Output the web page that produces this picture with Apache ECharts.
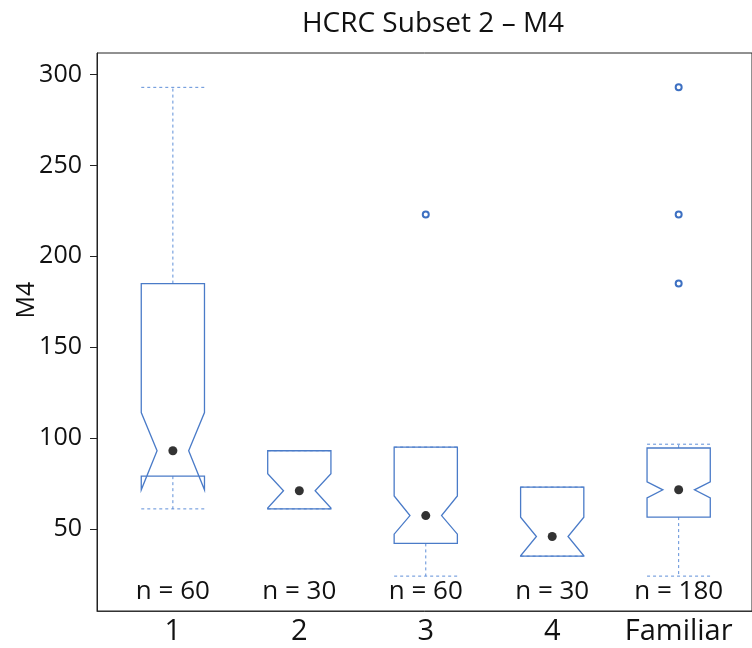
<!DOCTYPE html>
<html>
<head>
<meta charset="utf-8">
<script src="https://cdn.jsdelivr.net/npm/echarts@6/dist/echarts.min.js"></script>
<style>html,body{margin:0;padding:0;background:#fff}#c{width:752px;height:648px}</style>
</head>
<body>
<div id="c"></div>
<script>
const categories = ['1', '2', '3', '4', 'Familiar'];
const nLabels = ['n = 60', 'n = 30', 'n = 60', 'n = 30', 'n = 180'];
const whiskerLow = [61, 61, 24, 35, 24];
const q1 = [79, 61, 42, 35, 56.5];
const median = [93, 71, 57.3, 45.8, 71.5];
const q3 = [185, 93, 95, 73, 94.5];
const whiskerHigh = [293, 93, 95, 73, 96.6];
const notchLow = [71.5, 61.5, 47.1, 35.2, 67];
const notchHigh = [114, 80.3, 68.1, 56.4, 75.9];
const outlierCat = [3, 5, 5, 5];
const outlierVal = [223, 293, 223, 185];
const yTicks = [50, 100, 150, 200, 250, 300];
const xTicks = [1, 2, 3, 4, 5];

const FONT = '"Open Sans", "Noto Sans", sans-serif';
const BOX = '#4a7bc8';
const WHISK = '#5f8fd8';
const OUT = '#3d70c2';
const Y_MIN = 4.8, Y_MAX = 311.9;
const HW = 0.25;

const boxData = categories.map((c, i) => [i + 1, whiskerLow[i], q1[i], median[i], q3[i], whiskerHigh[i], notchLow[i], notchHigh[i], i]);

function renderBox(params, api) {
  const x = api.value(0);
  const wl = api.value(1), a = api.value(2), m = api.value(3), b = api.value(4), wh = api.value(5), nl = api.value(6), nh = api.value(7);
  const idx = api.value(8);
  const L = api.coord([x - HW, Y_MIN])[0];
  const R = api.coord([x + HW, Y_MIN])[0];
  const C = api.coord([x, Y_MIN])[0];
  const y = v => api.coord([x, v])[1];
  const inset = (R - L) / 4;
  const dash = {stroke: WHISK, lineWidth: 1, lineDash: [3, 3], fill: null};
  const children = [
    {type: 'line', shape: {x1: C, y1: y(b), x2: C, y2: y(wh)}, style: dash},
    {type: 'line', shape: {x1: L, y1: y(wh), x2: R, y2: y(wh)}, style: dash},
    {type: 'line', shape: {x1: C, y1: y(a), x2: C, y2: y(wl)}, style: dash},
    {type: 'line', shape: {x1: L, y1: y(wl), x2: R, y2: y(wl)}, style: dash},
    {type: 'polygon', shape: {points: [
      [L, y(b)], [R, y(b)], [R, y(nh)], [R - inset, y(m)], [R, y(nl)], [R, y(a)],
      [L, y(a)], [L, y(nl)], [L + inset, y(m)], [L, y(nh)]
    ]}, style: {stroke: BOX, lineWidth: 1.3, fill: 'rgba(0,0,0,0)'}},
    {type: 'text', x: C, y: api.coord([x, Y_MIN])[1] - 19, style: {
      text: nLabels[idx], textAlign: 'center', textVerticalAlign: 'middle',
      font: '26px ' + FONT, fill: '#111'}}
  ];
  return {type: 'group', children};
}

const outlierData = outlierVal.map((v, i) => [outlierCat[i], v]);

function renderOutlier(params, api) {
  const p = api.coord([api.value(0), api.value(1)]);
  return {type: 'circle', shape: {cx: p[0], cy: p[1], r: 3}, style: {stroke: OUT, lineWidth: 2, fill: '#fff'}};
}

const chart = echarts.init(document.getElementById('c'), null, {renderer: 'canvas'});
chart.setOption({
  animation: false,
  backgroundColor: '#fff',
  grid: {left: 97, top: 53, width: 660, height: 558, show: true, borderColor: '#222', borderWidth: 1, backgroundColor: 'transparent'},
  xAxis: {
    type: 'value', min: 0.4, max: 5.58,
    axisLine: {show: true, lineStyle: {color: '#333', width: 1}},
    axisTick: {show: false},
    splitLine: {show: false},
    axisLabel: {customValues: xTicks, formatter: v => categories[Math.round(v) - 1] || '', color: '#111', fontSize: 29, fontFamily: FONT, margin: 6}
  },
  yAxis: {
    type: 'value', min: Y_MIN, max: Y_MAX,
    axisLine: {show: true, lineStyle: {color: '#222', width: 1}},
    axisTick: {show: true, customValues: yTicks, length: 7, lineStyle: {color: '#222'}},
    splitLine: {show: false},
    axisLabel: {customValues: yTicks, color: '#111', fontSize: 25, fontFamily: FONT, margin: 15}
  },
  graphic: [
    {type: 'text', x: 433, y: 24, style: {text: 'HCRC Subset 2 – M4', textAlign: 'center', textVerticalAlign: 'middle', font: '28px ' + FONT, fill: '#111'}},
    {type: 'text', x: 27, y: 300, rotation: Math.PI / 2, style: {text: 'M4', textAlign: 'center', textVerticalAlign: 'middle', font: '25px ' + FONT, fill: '#111'}}
  ],
  series: [
    {type: 'custom', renderItem: renderBox, data: boxData, clip: false, z: 2},
    {type: 'scatter', data: median.map((v, i) => [i + 1, v]), symbol: 'circle', symbolSize: 9, itemStyle: {color: '#000'}, z: 3},
    {type: 'custom', renderItem: renderOutlier, data: outlierData, z: 3}
  ]
});
</script>
</body>
</html>
